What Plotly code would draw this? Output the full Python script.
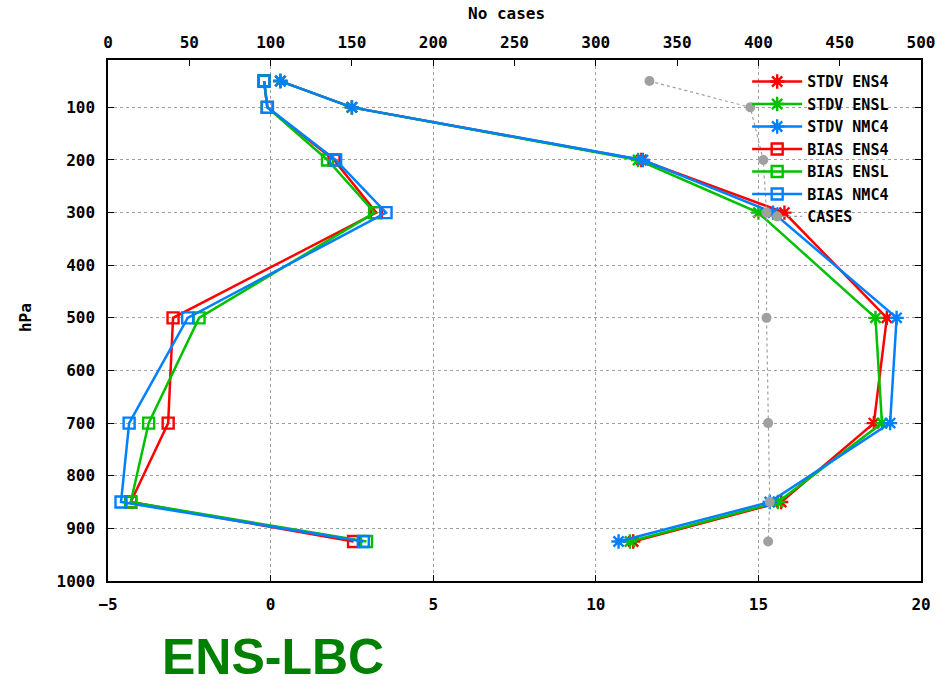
import plotly.graph_objects as go

levels = [50, 100, 200, 300, 500, 700, 850, 925]
stdv_ens4 = [0.3, 2.5, 11.4, 15.8, 18.95, 18.55, 15.7, 11.15]
stdv_ensl = [0.3, 2.5, 11.3, 15.0, 18.6, 18.8, 15.6, 11.05]
stdv_nmc4 = [0.3, 2.5, 11.45, 15.45, 19.25, 19.05, 15.35, 10.7]
bias_ens4 = [-0.2, -0.1, 1.95, 3.25, -3.0, -3.15, -4.3, 2.55]
bias_ensl = [-0.2, -0.1, 1.75, 3.2, -2.2, -3.75, -4.3, 2.95]
bias_nmc4 = [-0.2, -0.1, 2.0, 3.55, -2.55, -4.35, -4.6, 2.85]
cases = [333, 395, 403, 405, 405, 406, 407, 406]

x_ticks = [-5, 0, 5, 10, 15, 20]
x2_ticks = [0, 50, 100, 150, 200, 250, 300, 350, 400, 450, 500]
y_ticks = [100, 200, 300, 400, 500, 600, 700, 800, 900, 1000]

RED = "#ff0000"
GREEN = "#00c000"
BLUE = "#0080ff"
GRAY = "#a0a0a0"
FONT = dict(family="DejaVu Sans Mono", size=16, color="black", weight="bold")
LFONT = dict(family="DejaVu Sans Mono", size=15, color="black", weight="bold")

fig = go.Figure()

def add(name, xs, color, symbol, size):
    fig.add_trace(go.Scatter(
        x=xs, y=levels, name=name, mode="lines+markers",
        line=dict(color=color, width=2.5),
        marker=dict(symbol=symbol, size=size, color=color,
                    line=dict(color=color, width=2.4)),
    ))

add("STDV ENS4", stdv_ens4, RED, "asterisk-open", 12)
add("STDV ENSL", stdv_ensl, GREEN, "asterisk-open", 12)
add("STDV NMC4", stdv_nmc4, BLUE, "asterisk-open", 12)
add("BIAS ENS4", bias_ens4, RED, "square-open", 11)
add("BIAS ENSL", bias_ensl, GREEN, "square-open", 11)
add("BIAS NMC4", bias_nmc4, BLUE, "square-open", 11)

fig.add_trace(go.Scatter(
    x=cases, y=levels, name="CASES", xaxis="x2", mode="lines+markers",
    line=dict(color=GRAY, width=1.2, dash="dot"),
    marker=dict(symbol="circle", size=10, color=GRAY),
))

fig.update_layout(
    width=947, height=684,
    margin=dict(l=108, r=15, t=60, b=103),
    paper_bgcolor="white", plot_bgcolor="white",
    font=FONT,
    showlegend=True,
    legend=dict(x=0.967, y=0.99, xanchor="right", yanchor="top",
                bgcolor="rgba(0,0,0,0)", font=LFONT, tracegroupgap=0,
                itemwidth=50),
    xaxis=dict(range=[-5, 20], tickvals=x_ticks, ticks="inside", ticklen=6,
               tickcolor="black", showline=True, linecolor="black", linewidth=1.5,
               mirror=True, showgrid=True, gridcolor=GRAY, griddash="dot",
               gridwidth=1, zeroline=False, tickfont=FONT,
               ticklabelstandoff=8, ticklabeloverflow="allow"),
    xaxis2=dict(range=[0, 500], tickvals=x2_ticks, overlaying="x", side="top",
                ticks="inside", ticklen=6, tickcolor="black", showgrid=False,
                zeroline=False, tickfont=FONT, showline=False,
                ticklabelstandoff=8, ticklabeloverflow="allow"),
    yaxis=dict(range=[1000, 10], tickvals=y_ticks, ticks="inside", ticklen=6,
               tickcolor="black", showline=True, linecolor="black", linewidth=1.5,
               mirror="ticks", showgrid=True, gridcolor=GRAY, griddash="dot",
               gridwidth=1, zeroline=False, tickfont=FONT,
               ticklabelstandoff=8, ticklabeloverflow="allow"),
    annotations=[
        dict(text="hPa", xref="paper", yref="paper", x=-0.1007, y=0.505,
             textangle=-90, showarrow=False, font=FONT,
             xanchor="center", yanchor="middle"),
        dict(text="No cases", xref="paper", yref="paper", x=0.490, y=1.09,
             showarrow=False, font=FONT, xanchor="center", yanchor="middle"),
        dict(text="ENS-LBC", xref="paper", yref="paper", x=0.2027, y=-0.145,
             showarrow=False,
             font=dict(family="Liberation Sans", size=50, color="#008000",
                       weight="bold"),
             xanchor="center", yanchor="middle"),
    ],
)

fig.write_html("out.html", config={"displayModeBar": False},
               post_script="document.body.style.margin='0';")
